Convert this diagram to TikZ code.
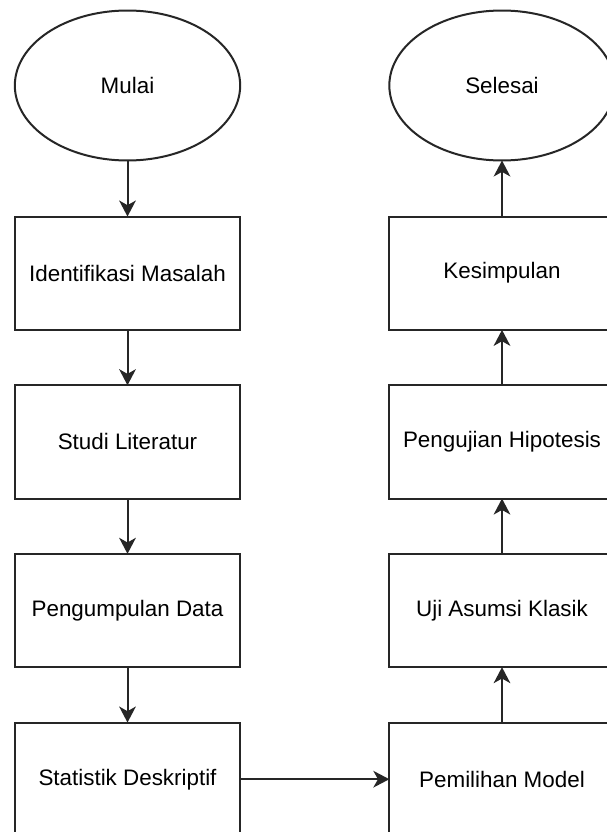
\documentclass[tikz,border=0pt]{standalone}
\usepackage{fontspec}
\setmainfont{Liberation Sans}
\usetikzlibrary{arrows.meta,shapes.geometric}
\begin{document}
\begin{tikzpicture}[x=0.75pt,y=-0.75pt,
  base/.style={draw=black!85,line width=1.5pt,inner sep=0pt,outer sep=0pt,
    font=\fontsize{16.8}{20}\selectfont,text=black},
  procbox/.style={base,rectangle,minimum width=169pt,minimum height=85pt},
  termnode/.style={base,ellipse,minimum width=169pt,minimum height=112.5pt},
  flow/.style={draw=black!85,line width=1.5pt,-{Stealth[length=12pt,width=12.5pt,inset=3.5pt]}}]
\path[use as bounding box] (0,0) rectangle (607,832);
\clip (0,0) rectangle (607,832);
\fill[white] (0,0) rectangle (607,832);
% left column
\node[termnode] (mulai) at (127.5,85.5) {Mulai};
\node[procbox] (ident) at (127.5,273.2) {Identifikasi Masalah};
\node[procbox] (studi) at (127.5,441.9) {Studi Literatur};
\node[procbox] (kumpul) at (127.5,610.5) {Pengumpulan Data};
\node[procbox] (stat) at (127.5,779.2) {Statistik Deskriptif};
% right column
\node[termnode] (selesai) at (502,85.5) {Selesai};
\node[procbox] (simpul) at (502,273.2) {Kesimpulan};
\node[procbox] (uji) at (502,441.9) {Pengujian Hipotesis};
\node[procbox] (asumsi) at (502,610.5) {Uji Asumsi Klasik};
\node[procbox] (model) at (502,779.2) {Pemilihan Model};
% connectors
\draw[flow] (mulai.south) -- (ident.north);
\draw[flow] (ident.south) -- (studi.north);
\draw[flow] (studi.south) -- (kumpul.north);
\draw[flow] (kumpul.south) -- (stat.north);
\draw[flow] (stat.east) -- (model.west);
\draw[flow] (model.north) -- (asumsi.south);
\draw[flow] (asumsi.north) -- (uji.south);
\draw[flow] (uji.north) -- (simpul.south);
\draw[flow] (simpul.north) -- (selesai.south);
\end{tikzpicture}
\end{document}
